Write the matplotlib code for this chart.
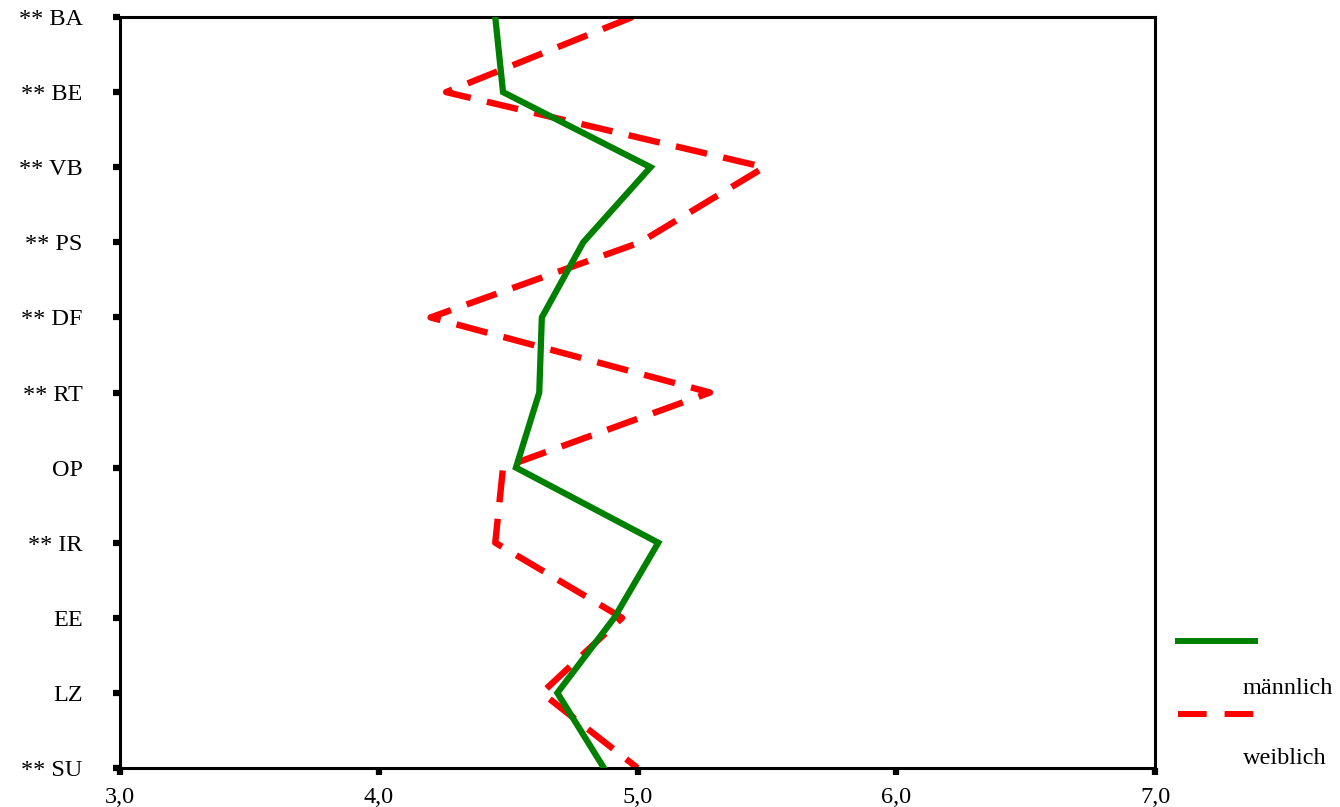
import matplotlib
matplotlib.use("Agg")
import matplotlib.pyplot as plt
from matplotlib.lines import Line2D

# categories from top to bottom
categories = ["** BA", "** BE", "** VB", "** PS", "** DF", "** RT",
              "OP", "** IR", "EE", "LZ", "** SU"]
maennlich = [4.45, 4.48, 5.05, 4.79, 4.63, 4.62, 4.53, 5.08, 4.91, 4.69, 4.87]
weiblich = [4.98, 4.26, 5.49, 5.01, 4.20, 5.28, 4.48, 4.45, 4.94, 4.63, 5.00]
xticks = [3.0, 4.0, 5.0, 6.0, 7.0]
xtick_labels = ["3,0", "4,0", "5,0", "6,0", "7,0"]

plt.rcParams["font.family"] = ["Liberation Serif", "DejaVu Serif"]

fig = plt.figure(figsize=(13.4, 8.07), dpi=100)
ax = fig.add_axes([0.0896, 0.0483, 0.7724, 0.9306])

ypos = list(range(len(categories)))
green = "#008000"
red = "#ff0000"

ax.plot(maennlich, ypos, color=green, lw=4.5, solid_joinstyle="miter", zorder=3)
ax.plot(weiblich, ypos, color=red, lw=4.6, dashes=(5, 2.6),
        dash_capstyle="butt", zorder=2)

ax.set_xlim(3.0, 7.0)
ax.set_ylim(len(categories) - 1, 0)
ax.set_xticks(xticks)
ax.set_xticklabels(xtick_labels)
ax.set_yticks(ypos)
ax.set_yticklabels(categories)

for side in ax.spines.values():
    side.set_linewidth(2.2)
ax.tick_params(axis="both", direction="out", length=5, width=4.5, labelsize=17.5)
ax.tick_params(axis="y", pad=22)
ax.tick_params(axis="x", pad=9)

# legend drawn in the SPSS style to the right of the plot
W, H = 1340, 807
fig.add_artist(Line2D([1178 / W, 1255 / W], [1 - 641 / H, 1 - 641 / H],
                      color=green, lw=4.3, transform=fig.transFigure))
fig.add_artist(Line2D([1178 / W, 1255 / W], [1 - 714 / H, 1 - 714 / H],
                      color=red, lw=4.3, dashes=(4.8, 3.0), dash_capstyle="butt",
                      transform=fig.transFigure))
fig.text(1243 / W, 1 - 689 / H, "männlich", fontsize=17.5, va="center", ha="left")
fig.text(1243 / W, 1 - 759 / H, "weiblich", fontsize=17.5, va="center", ha="left")

fig.savefig("out.png", dpi=100)
